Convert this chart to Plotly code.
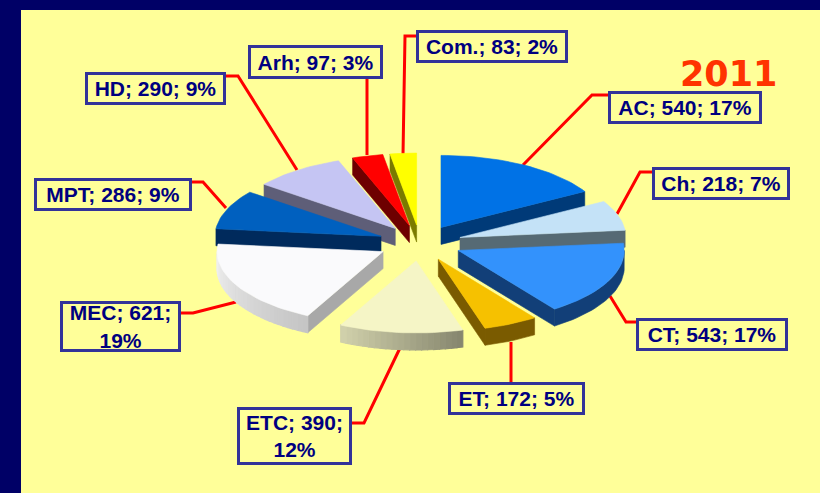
import math
import plotly.graph_objects as go

# ---- data ----
categories = ["AC", "Ch", "CT", "ET", "ETC", "MEC", "MPT", "HD", "Arh", "Com."]
values = [540, 218, 543, 172, 390, 621, 286, 290, 97, 83]
percents = [17, 7, 17, 5, 12, 19, 9, 9, 3, 2]
title_text = "2011"

# ---- styles ----
top_colors = ["#0072E6", "#C4E2F7", "#3392FC", "#F6C100", "#F5F5C6",
              "#FAFAFC", "#0060BF", "#C5C5F3", "#FF0000", "#FFFF00"]
side_colors = ["#003A78", "#566A74", "#123F78", "#7A5B00", "#A8A888",
               "#A8A8A8", "#002A5C", "#5E5E78", "#6E0000", "#7A7A00"]
# curved walls with shading along the sweep (start, end)
wall_gradient = {"ETC": ("#85856E", "#D2D2AC"), "MEC": ("#C4C4C4", "#F0F0F0")}

# ---- layout geometry (pixels) ----
W, H = 820, 493
CX, CY = 420, 243      # pie centre
RX, RY = 166, 72       # ellipse radii of the tilted disc
EX, EY = 42, 18        # explosion offset
DEPTH = 17             # extrusion
label_boxes = {        # x0, y0, x1, y1
    "AC": (608, 91, 762, 124), "Ch": (652, 167, 790, 200),
    "CT": (636, 318, 788, 351), "ET": (448, 382, 585, 415),
    "ETC": (237, 407, 352, 465), "MEC": (60, 301, 181, 352),
    "MPT": (34, 178, 192, 211), "HD": (85, 72, 226, 105),
    "Arh": (248, 45, 383, 79), "Com.": (416, 30, 568, 63),
}
wrapped = {"ETC", "MEC"}
leaders = {
    "AC": [(608, 95), (592, 95), (523, 165)],
    "Ch": [(652, 172), (640, 172), (617, 214)],
    "CT": [(636, 322), (626, 322), (610, 296)],
    "ET": [(511, 382), (511, 342)],
    "ETC": [(352, 423), (364, 423), (400, 348)],
    "MEC": [(181, 313), (193, 313), (236, 302)],
    "MPT": [(192, 182), (203, 182), (226, 208)],
    "HD": [(226, 76), (238, 76), (297, 170)],
    "Arh": [(367, 79), (367, 155)],
    "Com.": [(416, 36), (405, 36), (403, 155)],
}


def mix(c1, c2, t):
    a = [int(c1[i:i + 2], 16) for i in (1, 3, 5)]
    b = [int(c2[i:i + 2], 16) for i in (1, 3, 5)]
    return "rgb(%d,%d,%d)" % tuple(round(p + (q - p) * t) for p, q in zip(a, b))


fig = go.Figure()


def poly(points, color, edge=0.6):
    xs = [p[0] for p in points] + [points[0][0]]
    ys = [p[1] for p in points] + [points[0][1]]
    fig.add_trace(go.Scatter(x=xs, y=ys, mode="lines", fill="toself", fillcolor=color,
                             line=dict(color=color, width=edge), hoverinfo="skip",
                             showlegend=False))


for name, pts in leaders.items():
    fig.add_trace(go.Scatter(x=[p[0] for p in pts], y=[p[1] for p in pts], mode="lines",
                             line=dict(color="#FF0000", width=3), hoverinfo="skip",
                             showlegend=False))

total = sum(values)
slices = []
start = 0.0
for i, v in enumerate(values):
    sweep = 360.0 * v / total
    slices.append((i, start, start + sweep))
    start += sweep


def apex_of(a, b):
    m = math.radians((a + b) / 2)
    return CX + EX * math.sin(m), CY - EY * math.cos(m)


slices.sort(key=lambda s: apex_of(s[1], s[2])[1])

for i, a, b in slices:
    ax, ay = apex_of(a, b)

    def rim(t, drop=0.0):
        r = math.radians(t)
        return ax + RX * math.sin(r), ay - RY * math.cos(r) + drop

    side = side_colors[i]
    name = categories[i]
    # visible cut faces
    if math.sin(math.radians(b)) > 0:
        poly([(ax, ay), rim(b), rim(b, DEPTH), (ax, ay + DEPTH)], side)
    if math.sin(math.radians(a)) < 0:
        poly([(ax, ay), rim(a), rim(a, DEPTH), (ax, ay + DEPTH)], side)
    # curved wall
    lo, hi = max(a, 90), min(b, 270)
    if hi > lo:
        n = max(2, int((hi - lo) / 2))
        ts = [lo + (hi - lo) * k / n for k in range(n + 1)]
        if name in wall_gradient:
            for k in range(n):
                c = mix(*wall_gradient[name], (k + 0.5) / n)
                poly([rim(ts[k]), rim(ts[k + 1]), rim(ts[k + 1], DEPTH), rim(ts[k], DEPTH)], c, 1.2)
        else:
            poly([rim(t) for t in ts] + [rim(t, DEPTH) for t in reversed(ts)], side)
    # top face
    n = max(2, int((b - a) / 2))
    poly([(ax, ay)] + [rim(a + (b - a) * k / n) for k in range(n + 1)], top_colors[i])

annotations = []
for n, v, p in zip(categories, values, percents):
    x0, y0, x1, y1 = label_boxes[n]
    sep = "<br>" if n in wrapped else " "
    annotations.append(dict(
        x=(x0 + x1) / 2, y=(y0 + y1) / 2, xref="x", yref="y", showarrow=False,
        text=f"<b>{n}; {v};{sep}{p}%</b>", width=x1 - x0 - 6, height=y1 - y0 - 6,
        font=dict(family="Liberation Sans, Arial, sans-serif", size=21, color="#000080"),
        align="center", valign="middle", bgcolor="#FFFF99",
        bordercolor="#333399", borderwidth=3, borderpad=0,
    ))
annotations.append(dict(
    x=728, y=74, xref="x", yref="y", showarrow=False, text=f"<b>{title_text}</b>",
    font=dict(family="DejaVu Sans, Verdana, sans-serif", size=35, color="#FF3300"),
))

fig.update_layout(
    width=W, height=H, autosize=False,
    margin=dict(l=0, r=0, t=0, b=0),
    paper_bgcolor="#000066", plot_bgcolor="#000066",
    xaxis=dict(range=[0, W], visible=False, fixedrange=True),
    yaxis=dict(range=[H, 0], visible=False, fixedrange=True),
    shapes=[dict(type="rect", x0=21, y0=10, x1=W, y1=H, xref="x", yref="y",
                 fillcolor="#FFFF99", line=dict(width=0), layer="below")],
    annotations=annotations,
)
fig.write_html("out.html", config={"displayModeBar": False},
               post_script="document.body.style.margin='0';document.body.style.overflow='hidden';")
